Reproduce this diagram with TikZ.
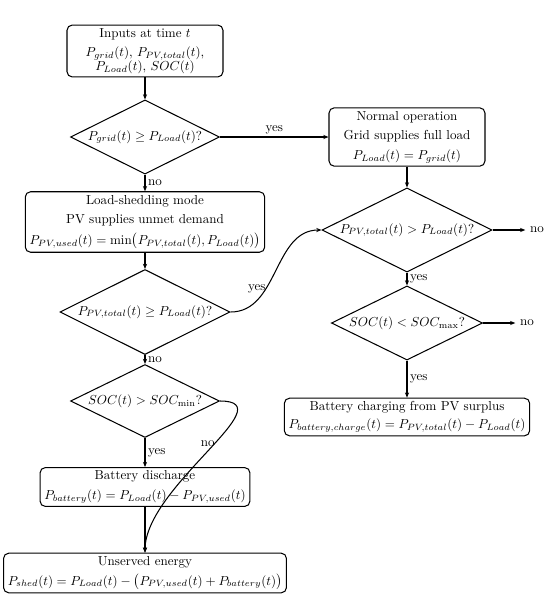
\documentclass[tikz,border=0pt]{standalone}
\usepackage{amsmath,amssymb}
\usetikzlibrary{arrows.meta,shapes.geometric}

\begin{document}
\begin{tikzpicture}[>={Stealth[length=4pt, width=3.2pt]}, thick, x=0.027cm, y=0.027cm,
    box/.style={draw, rounded corners=4pt, align=center, minimum width=4.21cm, inner ysep=2.5pt},
    decide/.style={draw, diamond, aspect=2, inner sep=0pt},
    lbl/.style={inner sep=2pt}]
    \useasboundingbox (0,0) rectangle (550,-599);

    % 左列：输入、判断与放电
    \node[box] (inputs) at (145,-51) {Inputs at time $t$\\[2.5pt] $P_{grid}(t)$, $P_{PV,total}(t)$,\\[-1pt] $P_{Load}(t)$, $SOC(t)$};
    \node[decide, minimum width=4.02cm, minimum height=2cm] (gridchk) at (145,-137) {$P_{grid}(t) \geq P_{Load}(t)$?};
    \node[box] (shed) at (145,-222) {Load-shedding mode\\[3pt] PV supplies unmet demand\\[4pt] $P_{PV,used}(t) = \min\bigl(P_{PV,total}(t), P_{Load}(t)\bigr)$};
    \node[decide, minimum width=4.59cm, minimum height=2.295cm] (pvchk) at (145,-312) {$P_{PV,total}(t) \geq P_{Load}(t)$?};
    \node[decide, minimum width=4.02cm, minimum height=1.97cm] (socmin) at (145,-401) {$SOC(t) > SOC_{\mathrm{min}}$?};
    \node[box] (dis) at (145,-487) {Battery discharge\\[3pt] $P_{battery}(t) = P_{Load}(t) - P_{PV,used}(t)$};
    \node[box] (unserved) at (145,-573) {Unserved energy\\[3pt] $P_{shed}(t) = P_{Load}(t) - \bigl(P_{PV,used}(t) + P_{battery}(t)\bigr)$};

    % 右列：正常运行与充电
    \node[box] (normal) at (407,-137) {Normal operation\\[3pt] Grid supplies full load\\[3pt] $P_{Load}(t) = P_{grid}(t)$};
    \node[decide, minimum width=4.59cm, minimum height=2.27cm] (pvsurplus) at (407,-230) {$P_{PV,total}(t) > P_{Load}(t)$?};
    \node[decide, minimum width=4.08cm, minimum height=2cm] (socmax) at (407,-323) {$SOC(t) < SOC_{\mathrm{max}}$?};
    \node[box] (charge) at (407,-417) {Battery charging from PV surplus\\[2pt] $P_{battery,charge}(t) = P_{PV,total}(t) - P_{Load}(t)$};
    \node (no1) at (537,-230) {no};
    \node (no2) at (527,-323) {no};

    % 连线
    \draw[->] (inputs) -- (gridchk);
    \draw[->] (gridchk) -- node[lbl, above] {yes} (normal);
    \draw[->] (gridchk) -- node[lbl, right] {no} (shed);
    \draw[->] (shed) -- (pvchk);
    \draw[->] (pvchk.east) to[out=0, in=180] node[pos=0.35, left, inner sep=0pt] {yes} (pvsurplus.west);
    \draw[->] (pvchk) -- node[lbl, right] {no} (socmin);
    \draw[->] (socmin) -- node[lbl, right] {yes} (dis);
    \draw[->] (socmin.east) to[out=0, in=90] node[pos=0.45, left, inner sep=0pt] {no} (unserved.north);
    \draw[->] (dis) -- (unserved);
    \draw[->] (normal) -- (pvsurplus);
    \draw[->] (pvsurplus) -- (no1);
    \draw[->] (pvsurplus) -- node[lbl, right] {yes} (socmax);
    \draw[->] (socmax) -- (no2);
    \draw[->] (socmax) -- node[lbl, right] {yes} (charge);
\end{tikzpicture}
\end{document}
